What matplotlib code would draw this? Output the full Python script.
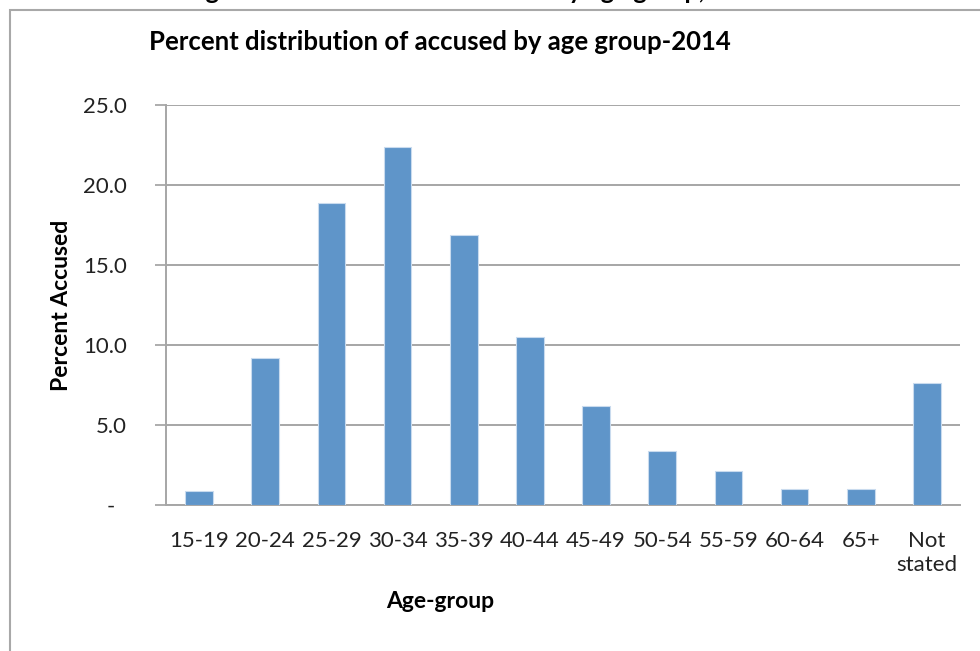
import matplotlib
matplotlib.use("Agg")
import matplotlib.pyplot as plt
from matplotlib.patches import Rectangle
from matplotlib import font_manager

age_groups = ["15-19", "20-24", "25-29", "30-34", "35-39", "40-44", "45-49",
              "50-54", "55-59", "60-64", "65+", "Not\nstated"]
percent_accused = [0.9, 9.2, 18.9, 22.4, 16.9, 10.5, 6.2, 3.35, 2.1, 1.0, 1.0, 7.6]
y_ticks = [0, 5, 10, 15, 20, 25]
y_tick_labels = ["-  ", "5.0", "10.0", "15.0", "20.0", "25.0"]

names = {f.name for f in font_manager.fontManager.ttflist}
fam = ["Liberation Sans Narrow", "Lato", "DejaVu Sans"]
fam = [f for f in fam if f in names] or ["DejaVu Sans"]
plt.rcParams['font.family'] = fam

W, H = 980, 651
fig = plt.figure(figsize=(W / 100, H / 100), dpi=100)
fig.patch.set_facecolor("white")

def fx(px):
    return px / W

def fy(py):
    return 1 - py / H

ax = fig.add_axes([fx(166), fy(505), fx(960) - fx(166), fy(105) - fy(505)])

x = list(range(len(age_groups)))
ax.bar(x, percent_accused, width=0.42, color="#5f95c9", edgecolor="#c9dbee",
       linewidth=0.8, zorder=3)

ax.set_xlim(-0.5, len(age_groups) - 0.5)
ax.set_ylim(0, 25)
ax.set_yticks(y_ticks)
ax.set_yticklabels(y_tick_labels, fontsize=16, color="#222222")
ax.set_xticks(x)
ax.set_xticklabels(age_groups, fontsize=16, color="#222222", linespacing=1.2,
                   va="top")
ax.tick_params(axis="y", length=8, width=1.2, color="#a0a0a0", pad=20)
ax.tick_params(axis="x", length=0, pad=19)
ax.grid(axis="y", color="#a6a6a6", linewidth=1.4, zorder=0)
for s in ["top", "right"]:
    ax.spines[s].set_visible(False)
for s in ["left", "bottom"]:
    ax.spines[s].set_color("#a6a6a6")
    ax.spines[s].set_linewidth(1.4)

# outer frame
fig.patches.append(Rectangle((fx(10), -0.05), 1.2, fy(10) + 0.05, transform=fig.transFigure,
                             fill=False, edgecolor="#a8a8a8", linewidth=1.5, clip_on=False))

# caption above the frame, mostly cut off at the top edge (only descenders visible)
fig.text(fx(185), fy(-1), "Figure 6: Distribution of accused by age group, 2014",
         fontsize=18, fontweight="bold", ha="left", va="baseline", color="black")

fig.text(fx(440), fy(42), "Percent distribution of accused by age group-2014",
         fontsize=18.5, fontweight="bold", ha="center", va="center", color="black")
fig.text(fx(62), fy(305), "Percent Accused", fontsize=16.5, fontweight="bold",
         rotation=90, ha="center", va="center", color="black")
fig.text(fx(440), fy(601), "Age-group", fontsize=16.5, fontweight="bold",
         ha="center", va="center", color="black")

fig.savefig("out.png", dpi=100, facecolor="white")
